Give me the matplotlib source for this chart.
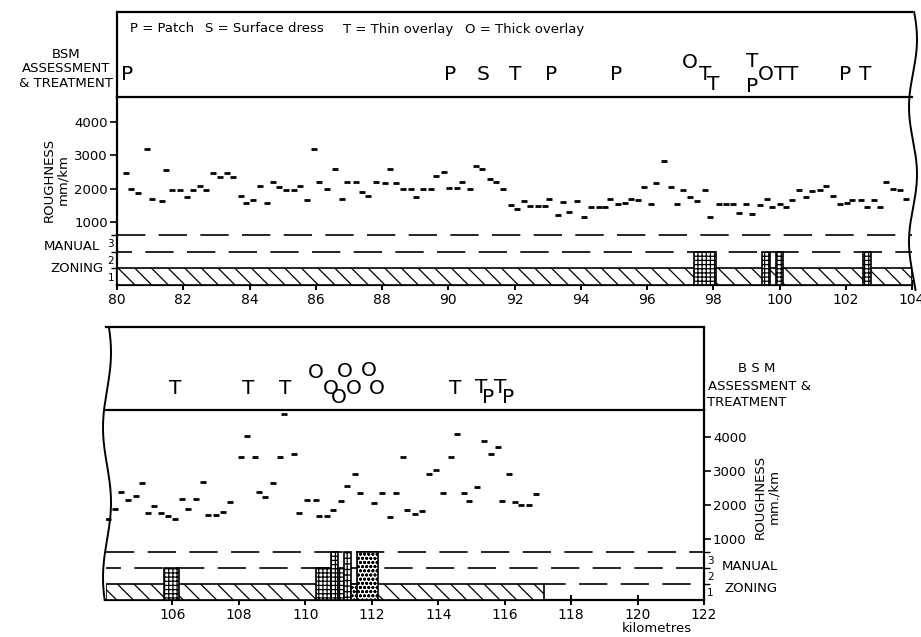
import numpy as np
import matplotlib
matplotlib.use('Agg')
import matplotlib.pyplot as plt
from matplotlib.lines import Line2D

plt.rcParams['font.family'] = ['DejaVu Sans']
plt.rcParams['hatch.linewidth'] = 0.9
plt.rcParams['hatch.color'] = 'black'

W, H = 921, 637

# ---------------- data: roughness (km, mm/km) ----------------
top_km = [80.26, 80.43, 80.64, 80.90, 81.06, 81.35, 81.47, 81.65, 81.90, 82.10,
          82.29, 82.50, 82.69, 82.89, 83.10, 83.33, 83.51, 83.74, 83.90, 84.12,
          84.32, 84.52, 84.72, 84.90, 85.10, 85.33, 85.53, 85.73, 85.95, 86.10,
          86.34, 86.59, 86.79, 86.94, 87.22, 87.41, 87.57, 87.81, 88.10, 88.23,
          88.43, 88.63, 88.87, 89.03, 89.24, 89.48, 89.63, 89.86, 90.02, 90.26,
          90.43, 90.66, 90.85, 91.03, 91.25, 91.43, 91.65, 91.90, 92.09, 92.30,
          92.48, 92.70, 92.92, 93.05, 93.30, 93.45, 93.66, 93.89, 94.11, 94.31,
          94.54, 94.72, 94.87, 95.12, 95.33, 95.52, 95.74, 95.90, 96.13, 96.28,
          96.50, 96.71, 96.91, 97.10, 97.31, 97.51, 97.74, 97.91, 98.16, 98.39,
          98.59, 98.79, 98.99, 99.17, 99.41, 99.63, 99.78, 100.03, 100.21, 100.39,
          100.59, 100.81, 100.99, 101.22, 101.41, 101.62, 101.82, 102.04, 102.20, 102.45,
          102.63, 102.85, 103.03, 103.23, 103.43, 103.64, 103.81]
top_rough = [2470, 1980, 1860, 3180, 1690, 1640, 2560, 1960, 1950, 1760,
             1960, 2070, 1960, 2460, 2340, 2480, 2360, 1780, 1570, 1660,
             2070, 1580, 2200, 2060, 1960, 1960, 2090, 1670, 3180, 2200,
             1980, 2580, 1690, 2190, 2190, 1890, 1770, 2200, 2180, 2580,
             2180, 1990, 1980, 1760, 1990, 1990, 2390, 2510, 2010, 2010,
             2190, 1990, 2690, 2600, 2300, 2190, 1990, 1510, 1380, 1620,
             1480, 1490, 1490, 1690, 1200, 1610, 1300, 1630, 1140, 1460,
             1450, 1460, 1680, 1540, 1560, 1680, 1660, 2040, 1540, 2160,
             2830, 2050, 1540, 1970, 1750, 1640, 1950, 1160, 1540, 1540,
             1540, 1260, 1540, 1230, 1520, 1680, 1460, 1550, 1440, 1670,
             1970, 1760, 1940, 1960, 2070, 1780, 1530, 1560, 1670, 1660,
             1460, 1660, 1440, 2190, 1980, 1960, 1680]

bot_km = [104.05, 104.28, 104.45, 104.65, 104.89, 105.09, 105.26, 105.44, 105.66, 105.86,
          106.09, 106.29, 106.48, 106.71, 106.91, 107.06, 107.30, 107.52, 107.73, 108.05,
          108.25, 108.47, 108.62, 108.80, 109.03, 109.25, 109.35, 109.65, 109.80, 110.06,
          110.31, 110.41, 110.64, 110.84, 111.08, 111.26, 111.48, 111.66, 112.08, 112.32,
          112.54, 112.72, 112.95, 113.07, 113.30, 113.52, 113.73, 113.93, 114.15, 114.37,
          114.58, 114.77, 114.92, 115.16, 115.38, 115.58, 115.81, 115.93, 116.13, 116.31,
          116.50, 116.73, 116.95]
bot_rough = [1580, 1870, 2370, 2160, 2260, 2660, 1770, 1980, 1770, 1670,
             1580, 2180, 1870, 2180, 2690, 1710, 1710, 1800, 2090, 3420,
             4030, 3410, 2380, 2240, 2660, 3420, 4670, 3510, 1770, 2140,
             2140, 1670, 1670, 1850, 2130, 2550, 2910, 2340, 2050, 2340,
             1650, 2340, 3400, 1840, 1730, 1830, 2920, 3040, 2340, 3410,
             4100, 2340, 2130, 2540, 3890, 3490, 3700, 2130, 2900, 2100,
             2010, 2010, 2310]

top_xticks = [80, 82, 84, 86, 88, 90, 92, 94, 96, 98, 100, 102, 104]
bot_xticks = [106, 108, 110, 112, 114, 116, 118, 120, 122]
rough_ticks = [1000, 2000, 3000, 4000]
zone_levels = [1, 2, 3]

# ---------------- data: manual zoning ----------------
top_zone1 = [80.0, 104.0]
top_zone_start = [97.43, 99.48, 99.90, 102.52]
top_zone_end = [98.07, 99.71, 100.11, 102.75]
top_zone_level = [2, 2, 2, 2]
top_zone_fill = ['++++', '++++', '++++', '++++']

bot_zone1 = [104.0, 117.19]
bot_zone_start = [105.76, 110.31, 110.76, 110.99, 111.16, 111.38, 111.56]
bot_zone_end = [106.19, 110.76, 110.99, 111.16, 111.38, 111.56, 112.20]
bot_zone_level = [2, 2, 3, 2, 3, 1, 3]
bot_zone_fill = ['++++', '++++', '++++', '++++', '+++', 'oooo', 'oooo']

# ---------------- data: BSM assessment & treatment ----------------
top_treat_km = [80.30, 90.06, 91.06, 92.02, 93.10, 95.08, 97.28, 97.76, 98.00,
                99.18, 99.18, 99.58, 100.03, 100.39, 101.99, 102.60]
top_treat = ['P', 'P', 'S', 'T', 'P', 'P', 'O', 'T', 'T',
             'T', 'P', 'O', 'T', 'T', 'P', 'T']
top_treat_row = [0.26, 0.26, 0.26, 0.26, 0.26, 0.26, 0.41, 0.26, 0.15,
                 0.42, 0.12, 0.26, 0.26, 0.26, 0.26, 0.26]

bot_treat_km = [106.09, 108.29, 109.40, 110.31, 110.76, 111.00, 111.20, 111.45,
                111.90, 112.14, 114.50, 115.30, 115.50, 115.88, 116.10]
bot_treat = ['T', 'T', 'T', 'O', 'O', 'O', 'O', 'O', 'O', 'O', 'T', 'T', 'P', 'T', 'P']
bot_treat_row = [0.265, 0.265, 0.265, 0.45, 0.265, 0.145, 0.46, 0.265,
                 0.47, 0.265, 0.265, 0.27, 0.155, 0.27, 0.155]

legend_items = ['P = Patch', 'S = Surface dress', 'T = Thin overlay', 'O = Thick overlay']
legend_km = [80.39, 82.66, 86.83, 90.51]

# ---------------- figure ----------------
fig = plt.figure(figsize=(W / 100, H / 100), dpi=100)
fig.patch.set_facecolor('white')


def rect(x0, x1, ytop, ybot):
    return [x0 / W, 1 - ybot / H, (x1 - x0) / W, (ybot - ytop) / H]


def fx(x):
    return x / W


def fy(y):
    return 1 - y / H


LW = 1.6
dash_style = (0, (17, 8))


def style_main(ax, axz, xlim, xticks, rlim, zlim, side):
    ax.set_xlim(*xlim)
    ax.set_ylim(*rlim)
    axz.set_ylim(*zlim)
    for a in (ax, axz):
        for s in a.spines.values():
            s.set_visible(False)
    ax.spines['bottom'].set_visible(True)
    ax.spines['bottom'].set_linewidth(LW)
    ax.spines[side].set_visible(True)
    ax.spines[side].set_linewidth(LW)
    ax.set_xticks(xticks)
    ax.set_xticklabels([str(t) for t in xticks])
    ax.tick_params(axis='x', direction='inout', length=7, width=1.4,
                   labelsize=10, pad=2)
    ax.set_yticks(rough_ticks)
    ax.set_yticklabels([str(t) for t in rough_ticks])
    ax.tick_params(axis='y', direction='out', length=5, width=1.2,
                   labelsize=9.5, pad=1.5,
                   left=(side == 'left'), labelleft=(side == 'left'),
                   right=(side == 'right'), labelright=(side == 'right'))
    axz.set_yticks([l - 0.5 for l in zone_levels])
    axz.set_yticklabels([str(l) for l in zone_levels])
    axz.set_yticks(zone_levels, minor=True)
    axz.tick_params(axis='y', which='major', length=0, labelsize=7.5, pad=2,
                    left=(side == 'left'), labelleft=(side == 'left'),
                    right=(side == 'right'), labelright=(side == 'right'))
    axz.tick_params(axis='y', which='minor', length=4, width=1.0,
                    direction='out',
                    left=(side == 'left'), right=(side == 'right'))
    ax.patch.set_visible(False)


def style_bsm(ax, xlim, side):
    ax.set_xlim(*xlim)
    ax.set_ylim(0, 1)
    ax.set_xticks([])
    ax.set_yticks([])
    for s in ax.spines.values():
        s.set_visible(False)
    for s in ('top', 'bottom', side):
        ax.spines[s].set_visible(True)
        ax.spines[s].set_linewidth(LW)


# ======== TOP PANEL ========
bsm1 = fig.add_axes(rect(117, 912, 12, 97))
style_bsm(bsm1, (80, 104), 'left')
for k, t, r in zip(top_treat_km, top_treat, top_treat_row):
    bsm1.text(k, r, t, fontsize=14.5, ha='center', va='center')
for k, t in zip(legend_km, legend_items):
    bsm1.text(k, 0.8, t, fontsize=9.5, ha='left', va='center')

ax1 = fig.add_axes(rect(117, 912, 97, 285))
az1 = ax1.twinx()
style_main(ax1, az1, (80, 104), top_xticks, (-890, 4750), (0, 11.28), 'left')
ax1.plot(top_km, top_rough, ls='none', marker='_', ms=4.5, mew=2.0, color='black')
az1.bar(top_zone1[0], 1, width=top_zone1[1] - top_zone1[0], align='edge',
        facecolor='white', edgecolor='black', hatch='\\\\', lw=1.2)
for s, e, l, h in zip(top_zone_start, top_zone_end, top_zone_level, top_zone_fill):
    az1.bar(s, l, width=e - s, align='edge', facecolor='white',
            edgecolor='black', hatch=h, lw=1.2)
az1.axhline(3, color='black', lw=1.2, ls=dash_style, zorder=0)
az1.axhline(2, color='black', lw=1.2, ls=(8, (17, 8)), zorder=0)

fig.text(fx(113), fy(69), 'BSM\nASSESSMENT\n& TREATMENT', ha='right', va='center',
         multialignment='center', fontsize=9.5, linespacing=1.15)
fig.text(fx(56), fy(180), 'ROUGHNESS\nmm/km', rotation=90, ha='center', va='center',
         multialignment='center', fontsize=9.5, linespacing=1.0)
fig.text(fx(100), fy(246), 'MANUAL', ha='right', va='center', fontsize=9.5)
fig.text(fx(103), fy(268), 'ZONING', ha='right', va='center', fontsize=9.5)

# wavy break at right
yy = np.linspace(12, 290, 200)
xx = 913 + 4 * np.sin(2 * np.pi * (yy - 12) / 135.0 + 0.3)
fig.add_artist(Line2D(fx(xx), fy(yy), color='black', lw=1.4))

# ======== BOTTOM PANEL ========
bsm2 = fig.add_axes(rect(106, 704, 327, 410))
style_bsm(bsm2, (104, 122), 'right')
for k, t, r in zip(bot_treat_km, bot_treat, bot_treat_row):
    bsm2.text(k, r, t, fontsize=14.5, ha='center', va='center')

ax2 = fig.add_axes(rect(106, 704, 410, 600))
az2 = ax2.twinx()
style_main(ax2, az2, (104, 122), bot_xticks, (-794, 4794), (0, 11.875), 'right')
ax2.plot(bot_km, bot_rough, ls='none', marker='_', ms=4.5, mew=2.0, color='black')
az2.bar(bot_zone1[0], 1, width=bot_zone1[1] - bot_zone1[0], align='edge',
        facecolor='white', edgecolor='black', hatch='\\\\', lw=1.2)
for s, e, l, h in zip(bot_zone_start, bot_zone_end, bot_zone_level, bot_zone_fill):
    az2.bar(s, l, width=e - s, align='edge', facecolor='white',
            edgecolor='black', hatch=h, lw=1.2)
az2.axhline(3, color='black', lw=1.2, ls=dash_style, zorder=0)
az2.axhline(2, color='black', lw=1.2, ls=(8, (17, 8)), zorder=0)
az2.hlines(1, bot_zone1[1], 122, color='black', lw=1.2, ls=(4, (17, 8)), zorder=0)

fig.text(fx(757), fy(368), 'B S M', ha='center', va='center', fontsize=9.5)
fig.text(fx(708), fy(386), 'ASSESSMENT &', ha='left', va='center', fontsize=9.5)
fig.text(fx(707), fy(402), 'TREATMENT', ha='left', va='center', fontsize=9.5)
fig.text(fx(767), fy(497), 'ROUGHNESS\nmm./km', rotation=90, ha='center', va='center',
         multialignment='center', fontsize=9.5, linespacing=1.0)
fig.text(fx(722), fy(567), 'MANUAL', ha='left', va='center', fontsize=9.5)
fig.text(fx(724), fy(588), 'ZONING', ha='left', va='center', fontsize=9.5)
fig.text(fx(657), fy(628), 'kilometres', ha='center', va='center', fontsize=9.5)

# wavy break at left
yy2 = np.linspace(327, 600, 200)
xx2 = 107 + 4 * np.sin(2 * np.pi * (yy2 - 327) / 150.0 + 0.5)
fig.add_artist(Line2D(fx(xx2), fy(yy2), color='black', lw=1.4))

fig.savefig('out.png', dpi=100, facecolor='white')
